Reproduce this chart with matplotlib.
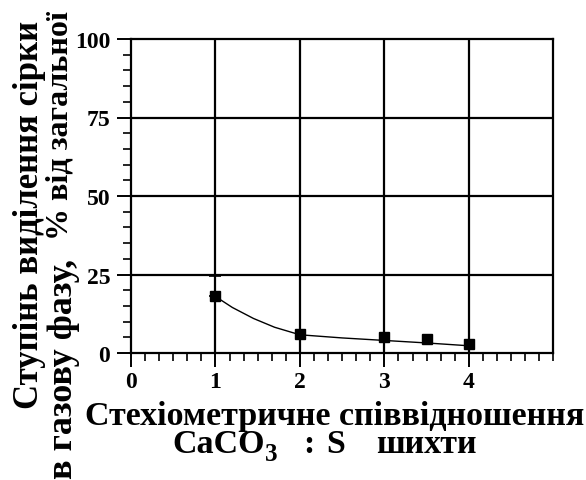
import matplotlib
matplotlib.use("Agg")
import matplotlib.pyplot as plt
from matplotlib.ticker import MultipleLocator, FixedLocator
import numpy as np

# data
ratio = [1, 2, 3, 3.5, 4]
release = [18.0, 5.9, 5.2, 4.5, 2.9]
err_x = [1]
err_y = [18.0]
err_up = [6.4]
curve_x = [1.0, 1.2, 1.45, 1.7, 2.0, 2.5, 3.0, 3.5, 4.0]
curve_y = [18.0, 14.5, 11.0, 8.2, 5.8, 4.8, 4.0, 3.2, 2.3]
xticks = [0, 1, 2, 3, 4]
yticks = [0, 25, 50, 75, 100]

W, H = 586, 481
fig = plt.figure(figsize=(W/100, H/100), dpi=100)
ax = fig.add_axes([131/W, 1-354/H, (553.3-131)/W, (354-40)/H])

serif = ['Liberation Serif', 'DejaVu Serif']

ax.plot(curve_x, curve_y, color='black', lw=1.0, zorder=3)
ax.errorbar(err_x, err_y, yerr=[[0], err_up], fmt='none', ecolor='black',
            elinewidth=1.2, capsize=4, capthick=1.2, zorder=3)
ax.plot(ratio, release, 's', color='black', markersize=7, zorder=4)

ax.set_xlim(0, 5)
ax.set_ylim(0, 100)
ax.xaxis.set_major_locator(FixedLocator(xticks))
ax.xaxis.set_minor_locator(MultipleLocator(1/6))
ax.yaxis.set_major_locator(FixedLocator(yticks))
ax.yaxis.set_minor_locator(MultipleLocator(5))

for gx in [1, 2, 3, 4]:
    ax.axvline(gx, color='black', lw=1.6, zorder=1)
for gy in [25, 50, 75]:
    ax.axhline(gy, color='black', lw=1.6, zorder=1)

for s in ax.spines.values():
    s.set_linewidth(1.6)

ax.tick_params(axis='both', which='major', direction='out', length=10, width=1.4,
               labelsize=17, pad=5)
ax.tick_params(axis='both', which='minor', direction='out', length=6, width=1.2)
ax.tick_params(axis='x', which='major', pad=3)
for lab in ax.get_xticklabels() + ax.get_yticklabels():
    lab.set_fontfamily(serif)
    lab.set_fontweight('bold')

# y label
fig.text(30/W, 1-215/H, 'Ступінь виділення сірки', rotation=90, ha='center', va='center',
         fontsize=25, fontweight='bold', family=serif)
fig.text(64/W, 1-479/H, 'в газову фазу,', rotation=90, ha='center', va='bottom',
         fontsize=26, fontweight='bold', family=serif)
fig.text(60/W, 1-240/H, '% від загальної', rotation=90, ha='center', va='bottom',
         fontsize=23, fontweight='bold', family=serif)

# x label
fig.text(335/W, 1-425/H, 'Стехіометричне співвідношення', ha='center', va='baseline',
         fontsize=24.5, fontweight='bold', family=serif)
fig.text(172/W, 1-453/H, 'CaCO', ha='left', va='baseline',
         fontsize=24.5, fontweight='bold', family=serif)
fig.text(265/W, 1-461/H, '3', ha='left', va='baseline',
         fontsize=18, fontweight='bold', family=serif)
fig.text(303/W, 1-453/H, ':', ha='left', va='baseline',
         fontsize=24.5, fontweight='bold', family=serif)
fig.text(326/W, 1-453/H, 'S', ha='left', va='baseline',
         fontsize=24.5, fontweight='bold', family=serif)
fig.text(376/W, 1-453/H, 'шихти', ha='left', va='baseline',
         fontsize=24.5, fontweight='bold', family=serif)

fig.savefig('out.png', dpi=100)
